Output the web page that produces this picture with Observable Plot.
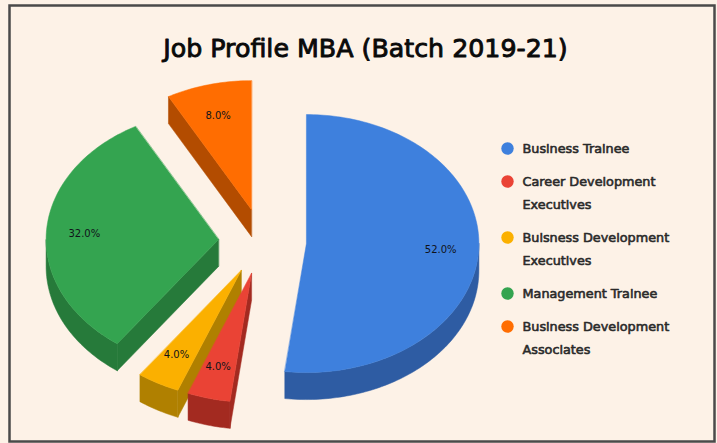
<!DOCTYPE html>
<html>
<head>
<meta charset="utf-8">
<script src="https://cdn.jsdelivr.net/npm/d3@7"></script>
<script src="https://cdn.jsdelivr.net/npm/@observablehq/plot@0.6"></script>
<style>
html,body{margin:0;padding:0;background:#fdf2e7;}
svg{display:block;}
</style>
</head>
<body>
<div id="chart"></div>
<script>
const chartTitle = "Job Profile MBA (Batch 2019-21)";
const categories = ["Business Trainee", "Career Development Executives", "Buisness Development Executives", "Management Trainee", "Business Development Associates"];
const legendLines = [["Business Trainee"], ["Career Development", "Executives"], ["Buisness Development", "Executives"], ["Management Trainee"], ["Business Development", "Associates"]];
const shares = [52, 4, 4, 32, 8];
const topColors = ["#3e80dd", "#ea4335", "#fbb000", "#34a450", "#ff6d01"];
const wallColors = ["#2e5ca3", "#a32a20", "#b08000", "#267a3a", "#b34c00"];

const explode = 0.255, depth = 27 / 129, labelRadiusX = 0.78, labelRadiusY = 0.75;
const drawOrder = [4, 3, 0, 2, 1];
const arcs = d3.pie().sort(null).startAngle(0).endAngle(2 * Math.PI)(shares);

function pt(i, a, rad, drop = 0) {
  const m = (arcs[i].startAngle + arcs[i].endAngle) / 2;
  return {
    x: explode * Math.sin(m) + rad * Math.sin(a),
    y: explode * Math.cos(m) + rad * Math.cos(a) - drop
  };
}
function arcPts(i, a0, a1, drop = 0) {
  const n = Math.max(2, Math.ceil((a1 - a0) / 0.02));
  return d3.range(n + 1).map(k => pt(i, a0 + (a1 - a0) * k / n, 1, drop));
}

const faces = [];
function addFace(i, kind, pts, tag) {
  pts.forEach(p => faces.push({...p, face: `${i}-${tag}`, fill: kind === "top" ? categories[i] : categories[i] + " wall"}));
}
drawOrder.forEach(i => {
  const {startAngle: s, endAngle: e} = arcs[i];
  if (Math.sin(s) < -1e-6) {
    addFace(i, "wall", [pt(i, s, 0), pt(i, s, 1), pt(i, s, 1, depth), pt(i, s, 0, depth)], "start");
  }
  if (Math.sin(e) > 1e-6) {
    addFace(i, "wall", [pt(i, e, 0), pt(i, e, 1), pt(i, e, 1, depth), pt(i, e, 0, depth)], "end");
  }
  const r0 = Math.max(s, Math.PI / 2), r1 = Math.min(e, 3 * Math.PI / 2);
  if (r1 > r0) {
    addFace(i, "wall", [...arcPts(i, r0, r1), ...arcPts(i, r0, r1, depth).reverse()], "rim");
  }
  addFace(i, "top", [pt(i, s, 0), ...arcPts(i, s, e)], "top");
});

const labels = arcs.map((a, i) => {
  const m = (a.startAngle + a.endAngle) / 2;
  return {x: pt(i, m, labelRadiusX).x, y: pt(i, m, labelRadiusY).y, text: shares[i].toFixed(1) + "%"};
});

const font = "'DejaVu Sans', sans-serif";
const rowTop = 148, rowStep = 33, lineStep = 23, legendSize = 12.8;
let legendY = rowTop;
const legendMarks = categories.flatMap((c, i) => {
  const y = legendY;
  legendY += rowStep + lineStep * (legendLines[i].length - 1);
  return [
    Plot.dot([c], {frameAnchor: "top-left", dx: 507, dy: y, r: 6.2, fill: d => d, stroke: "none"}),
    Plot.text([legendLines[i].join("\n")], {
      frameAnchor: "top-left", dx: 522, dy: y - 12, lineAnchor: "top", textAnchor: "start",
      text: d => d, fontSize: legendSize, lineHeight: lineStep / legendSize,
      fill: "#2a2a2a", stroke: "#2a2a2a", strokeWidth: 0.6, fontFamily: font
    })
  ];
});

const plot = Plot.plot({
  width: 717, height: 443,
  margin: 0,
  style: {background: "#fdf2e7", fontFamily: font},
  x: {domain: [-1, 1], range: [89.5, 434.5], axis: null},
  y: {domain: [-1, 1], range: [370, 112], axis: null},
  color: {
    domain: [...categories, ...categories.map(c => c + " wall")],
    range: [...topColors, ...wallColors]
  },
  marks: [
    Plot.line(faces, {x: "x", y: "y", z: "face", fill: "fill", stroke: "fill", strokeWidth: 0.5, curve: "linear-closed"}),
    Plot.text(labels, {x: "x", y: "y", text: "text", fontSize: 10, fill: "#10131a", fontFamily: font}),
    Plot.text([chartTitle], {frameAnchor: "top", dy: 39, dx: 6.5, lineAnchor: "top", text: d => d, fontSize: 25.3, fill: "#0a0a0a", stroke: "#0a0a0a", strokeWidth: 0.9, fontFamily: font}),
    ...legendMarks,
    Plot.frame({insetLeft: 9, insetTop: 5, insetRight: 3, insetBottom: 2, stroke: "#4a4a4a", strokeWidth: 2.5})
  ]
});
document.getElementById("chart").append(plot);
</script>
</body>
</html>
